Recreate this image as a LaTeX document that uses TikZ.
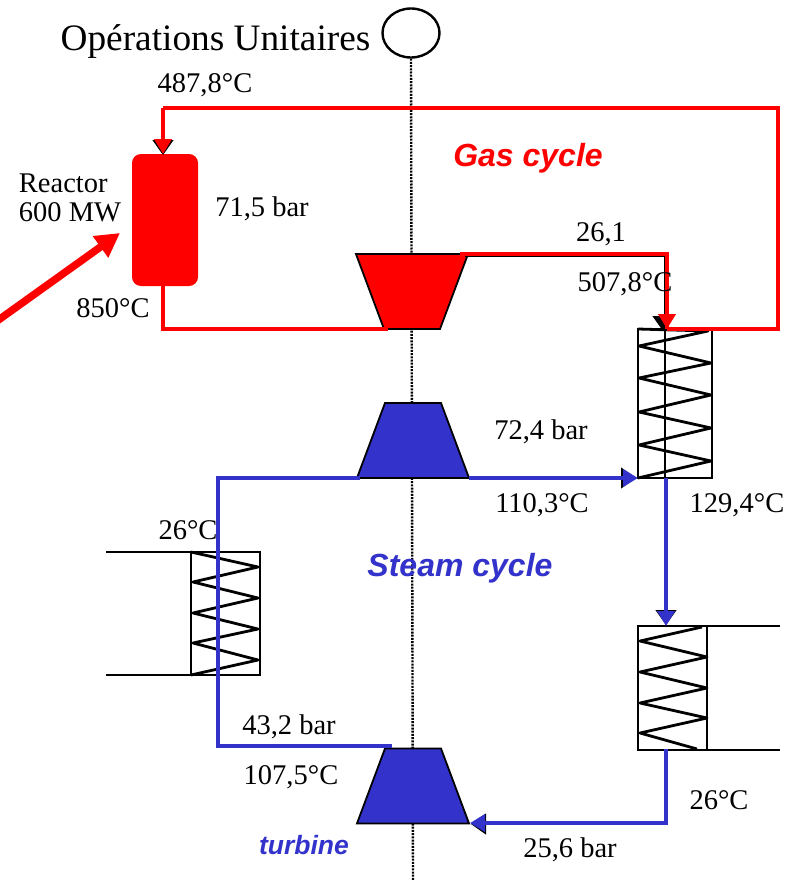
\documentclass[tikz,border=0pt]{standalone}
\usepackage{fontspec}
\setmainfont{Liberation Serif}
\setsansfont{Liberation Sans}
\usepackage{xcolor}
\usetikzlibrary{shapes.geometric,arrows.meta}
\definecolor{steamblue}{RGB}{51,51,204}

\begin{document}
\begin{tikzpicture}[x=1pt,y=-1pt]
    \tikzstyle{datatext} = [inner sep=0pt, font=\fontsize{28.5}{29}\selectfont]
    \tikzstyle{cycletext} = [inner sep=0pt, font=\fontsize{32}{32}\selectfont\sffamily\bfseries\itshape]
    \tikzstyle{turbo} = [trapezium, draw=black, line width=1.8pt, trapezium angle=69.5,
               inner xsep=28pt, inner ysep=37.5pt, outer sep=0pt]
    \tikzstyle{hxbox} = [rectangle, draw=black, line width=2.8pt, inner sep=0pt, outer sep=0pt]
    \tikzstyle{zigzag} = [draw=black, line width=2.8pt, line join=round]
    \tikzstyle{redline} = [draw=red, line width=4.4pt]
    \tikzstyle{blueline} = [draw=steamblue, line width=4.4pt]
    \tikzstyle{backtip} = [draw=black, line width=1pt, -{Triangle[length=15pt,width=21pt]}]
    \tikzstyle{redtip} = [redline, -{Triangle[length=15pt,width=17pt]}]
    \tikzstyle{bluetip} = [blueline, -{Triangle[length=15pt,width=17pt]}]

    \useasboundingbox (0,0) rectangle (793,880);

    % Axis of the machine
    \node [ellipse, draw=black, line width=2.4pt, inner sep=0pt, minimum width=57pt,
      minimum height=49pt] (shaft) at (411,33) {};
    \coordinate (shaftend) at (413,880);
    \draw [black, line width=2.4pt, dash pattern=on 2pt off 1.2pt] (shaft.south) -- (shaftend);

    % Machines
    \node [rectangle, fill=red, rounded corners=9pt, minimum width=66pt, minimum height=132pt,
      inner sep=0pt] (reactor) at (165,220) {};
    \node [turbo, fill=red, shape border rotate=180] (gasturbine) at (412,291.5) {};
    \node [turbo, fill=steamblue] (compressor) at (413,440.5) {};
    \node [turbo, fill=steamblue] (turbine) at (413,786) {};

    \node [hxbox, minimum width=74pt, minimum height=149pt] (hxmain) at (675,403.5) {};
    \node [hxbox, minimum width=69pt, minimum height=123pt] (hxleft) at (225.5,613.5) {};
    \node [hxbox, minimum width=69pt, minimum height=124pt] (hxright) at (672.5,688) {};

    % Coils
    \draw [zigzag] (hxmain.north west) -- (708,331) -- (639,346) -- (711,363) -- (639,378)
      -- (711,395) -- (639,412) -- (711,428) -- (639,445) -- (711,461) -- (hxmain.south west);
    \draw [zigzag] (hxleft.north west) -- (258,567) -- (193,582) -- (258,598) -- (193,613)
      -- (258,629) -- (193,643) -- (258,660) -- (hxleft.south west);
    \draw [zigzag] (702,627) -- (640,641) -- (707,657) -- (640,672) -- (707,688) -- (640,703)
      -- (707,718) -- (640,733) -- (697,749);

    % Cooling water
    \coordinate (leftin) at (106,552);
    \coordinate (leftout) at (106,675);
    \coordinate (rightin) at (780,626);
    \coordinate (rightout) at (780,750);
    \draw [black, line width=2.8pt] (leftin) -- (hxleft.north west);
    \draw [black, line width=2.8pt] (leftout) -- (hxleft.south west);
    \draw [black, line width=2.8pt] (rightin) -- (hxright.north east);
    \draw [black, line width=2.8pt] (rightout) -- (hxright.south east);

    % Gas cycle
    \coordinate (gastop) at (163,108);
    \coordinate (gasright) at (778,108);
    \coordinate (gascorner) at (778,329);
    \coordinate (gasin) at (667,329);
    \coordinate (gasback) at (667,254);
    \coordinate (gasexit) at (460,254);
    \coordinate (gasdown) at (163,329);
    \coordinate (gasturbinein) at (388,329);
    \coordinate (reactorin) at (163,154);
    \coordinate (reactorout) at (163,286);
    \coordinate (blackcorner) at (665,256);
    \coordinate (blackstart) at (465,256);
    \coordinate (blackend) at (665,478);
    \draw [black, line width=2.6pt] (blackstart) -- (blackcorner) -- (blackend);
    \draw [backtip] (663,314) -- (663,331);
    \draw [backtip] (163,139) -- (163,155);
    \draw [redline] (gastop) -- (gasright) -- (gascorner) -- (gasin);
    \draw [redtip] (gastop) -- (reactorin);
    \draw [redline] (reactorout) -- (gasdown) -- (gasturbinein);
    \draw [redline] (gasexit) -- (gasback) -- (gasin);
    \draw [redtip] (gasback) -- (gasin);

    % Steam cycle
    \coordinate (steamcorner) at (218,478);
    \coordinate (steamin) at (360,478);
    \coordinate (steamexit) at (469,478);
    \coordinate (steamout) at (638,478);
    \coordinate (lowcorner) at (218,746);
    \coordinate (turbinein) at (392,746);
    \coordinate (hxdown) at (666,478);
    \coordinate (hxrightin) at (666,626);
    \coordinate (hxrightout) at (666,749);
    \coordinate (feedcorner) at (666,823);
    \coordinate (turbineout) at (470,823);
    \draw [blueline] (turbinein) -- (lowcorner) -- (steamcorner) -- (steamin);
    \draw [backtip] (622,478) -- (636,478);
    \draw [bluetip] (steamexit) -- (steamout);
    \draw [backtip] (666,610) -- (666,625);
    \draw [bluetip] (hxdown) -- (hxrightin);
    \draw [backtip] (489,824) -- (471,824);
    \draw [bluetip] (hxrightout) -- (feedcorner) -- (turbineout);

    % Power arrow
    \coordinate (powerstart) at (-3,321);
    \coordinate (powerend) at (120,233);
    \draw [red, line width=7.5pt, -{Triangle[length=24pt,width=25pt]}] (powerstart) -- (powerend);

    % Labels
    \node [inner sep=0pt, font=\fontsize{37.3}{38}\selectfont] (title) at (215.5,42) {Opérations Unitaires};
    \node [datatext] (tempin) at (205,85) {487,8°C};
    \node [datatext, align=left] (reactorname) at (70,198) {Reactor\\600 MW};
    \node [datatext] (pressreactor) at (262,209) {71,5 bar};
    \node [datatext] (tempreactor) at (113,308) {850°C};
    \node [datatext] (pressgas) at (601,234) {26,1};
    \node [datatext] (tempgas) at (625,284) {507,8°C};
    \node [datatext] (presssteam) at (541,432) {72,4 bar};
    \node [datatext] (tempsteam) at (542,505) {110,3°C};
    \node [datatext] (temphx) at (737,505) {129,4°C};
    \node [datatext] (templeft) at (188,530) {26°C};
    \node [datatext] (presslow) at (289,727) {43,2 bar};
    \node [datatext] (templow) at (291,777) {107,5°C};
    \node [datatext] (tempright) at (719,800) {26°C};
    \node [datatext] (pressfeed) at (570,850) {25,6 bar};
    \node [cycletext, text=red] (gascycle) at (528,158) {Gas cycle};
    \node [cycletext, text=steamblue] (steamcycle) at (460,568) {Steam cycle};
    \node [inner sep=0pt, text=steamblue, font=\fontsize{26.5}{27}\selectfont\sffamily\bfseries\itshape]
      (turbinename) at (304,845) {turbine};
  \end{tikzpicture}
\end{document}
